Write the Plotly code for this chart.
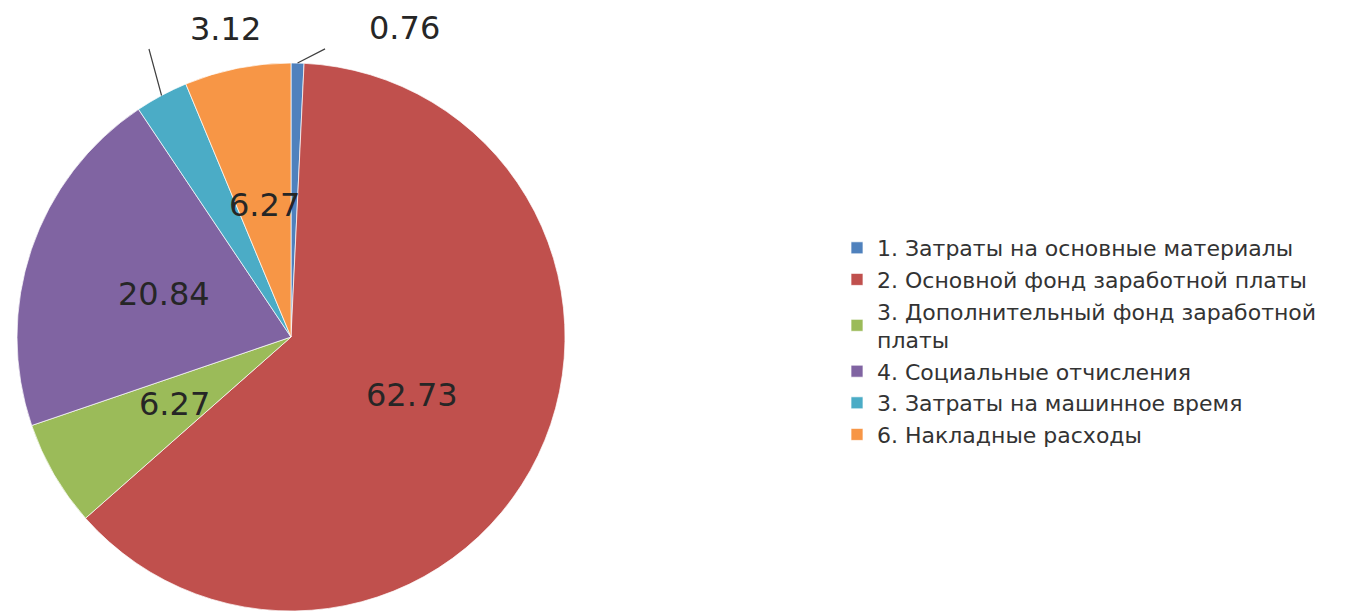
import math
import plotly.graph_objects as go

categories = [
    "1. Затраты на основные материалы",
    "2. Основной фонд заработной платы",
    "3. Дополнительный фонд заработной<br>платы",
    "4. Социальные отчисления",
    "3. Затраты на машинное время",
    "6. Накладные расходы",
]
values = [0.76, 62.73, 6.27, 20.84, 3.12, 6.27]
value_labels = ["0.76", "62.73", "6.27", "20.84", "3.12", "6.27"]
colors = ["#4F81BD", "#C0504D", "#9BBB59", "#8064A2", "#4BACC6", "#F79646"]

# page has an 8px body margin, so the figure is 8px smaller than the window
W, H = 1347, 604
CX, CY, R = 283, 329, 274  # pie centre / radius in figure pixels

fig = go.Figure(go.Pie(
    labels=categories,
    values=values,
    sort=False,
    direction="clockwise",
    rotation=0,
    textinfo="none",
    hoverinfo="label+value",
    marker=dict(colors=colors, line=dict(color="rgba(255,255,255,0.7)", width=1)),
    domain=dict(x=[(CX - R) / W, (CX + R) / W], y=[1 - (CY + R) / H, 1 - (CY - R) / H]),
))

font_family = "DejaVu Sans"
label_font = dict(family=font_family, size=32, color="#262626")


def to_paper(px, py):
    return px / W, 1 - py / H


total = sum(values)
cum = 0.0
# label placement style: inside at half radius, or outside with a leader line
outside_style = {0: ((107, -35), (29, -15)), 4: ((64, -67), (-13, -48))}
annotations = []
for i, v in enumerate(values):
    mid = (cum + v / 2) / total * 2 * math.pi
    cum += v
    dx, dy = math.sin(mid), -math.cos(mid)
    if i in outside_style:
        (lx, ly), (ex, ey) = outside_style[i]
        rx, ry = CX + R * dx, CY + R * dy
        px, py = to_paper(rx, ry)
        annotations.append(dict(x=px, y=py, xref="paper", yref="paper", text="",
                                showarrow=True, arrowhead=0, arrowwidth=1.2,
                                arrowcolor="#404040", ax=ex, ay=ey))
        tx, ty = to_paper(rx + lx, ry + ly)
        annotations.append(dict(x=tx, y=ty, xref="paper", yref="paper",
                                text=value_labels[i], showarrow=False,
                                xanchor="center", yanchor="middle", font=label_font))
    else:
        tx, ty = to_paper(CX + 0.49 * R * dx, CY + 0.49 * R * dy)
        annotations.append(dict(x=tx, y=ty, xref="paper", yref="paper",
                                text=value_labels[i], showarrow=False,
                                xanchor="center", yanchor="middle", font=label_font))

fig.update_layout(
    width=W, height=H,
    margin=dict(l=0, r=0, t=0, b=0, autoexpand=False),
    paper_bgcolor="white",
    plot_bgcolor="white",
    showlegend=True,
    legend=dict(
        x=829 / W, y=1 - 219 / H, xanchor="left", yanchor="top",
        font=dict(family=font_family, size=22, color="#333333"),
        traceorder="normal",
        itemclick=False,
    ),
    annotations=annotations,
)

fig.write_html("out.html")
